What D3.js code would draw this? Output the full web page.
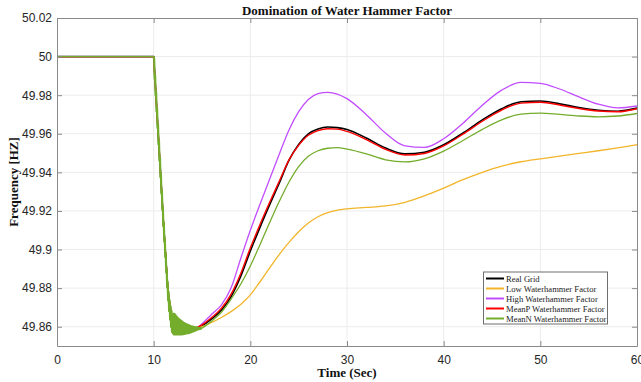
<!DOCTYPE html>
<html>
<head>
<meta charset="utf-8">
<script src="https://cdn.jsdelivr.net/npm/d3@7"></script>
<style>
  html, body { margin: 0; padding: 0; background: #fff; }
  svg { display: block; }
</style>
</head>
<body>
<svg id="chart" width="641" height="382"></svg>
<script>
// ---------------- DATA ----------------
const time = [0, 10, 10.5, 11, 11.5, 12, 12.5, 13,
  14, 15, 16, 17, 18, 19, 20, 21, 22, 23, 24, 25, 26, 27, 28, 29, 30,
  32, 34, 36, 38, 40, 42, 44, 46, 48, 50, 52, 54, 56, 58, 60];

const realGrid = [50, 50, 49.9575, 49.915, 49.877, 49.861, 49.8605, 49.859,
  49.8587, 49.8605, 49.8640, 49.8685, 49.8755, 49.8860, 49.8992, 49.9115, 49.9232, 49.9345, 49.9463, 49.9545, 49.9600, 49.9625, 49.9635, 49.9632, 49.9622,
  49.9578, 49.9526, 49.9496, 49.9504, 49.9543, 49.9604, 49.9672, 49.9730, 49.9766, 49.9770, 49.9755, 49.9736, 49.9722, 49.9717, 49.9733];

const lowWH = [50, 50, 49.9575, 49.915, 49.877, 49.861, 49.8605, 49.8595,
  49.8590, 49.8600, 49.8622, 49.8648, 49.8678, 49.8715, 49.8765, 49.8833, 49.8905, 49.8975, 49.9037, 49.9092, 49.9137, 49.9170, 49.9191, 49.9204, 49.9211,
  49.9218, 49.9226, 49.9245, 49.9278, 49.9318, 49.9362, 49.9400, 49.9432, 49.9455, 49.9470, 49.9484, 49.9498, 49.9512, 49.9527, 49.9543];

const highWH = [50, 50, 49.9575, 49.915, 49.877, 49.861, 49.8575, 49.8565,
  49.8575, 49.8615, 49.8665, 49.8712, 49.8800, 49.8952, 49.9100, 49.9235, 49.9365, 49.9495, 49.9620, 49.9715, 49.9778, 49.9808, 49.9815, 49.9806, 49.9782,
  49.9699, 49.9603, 49.9537, 49.9529, 49.9574, 49.9655, 49.9748, 49.9826, 49.9866, 49.9861, 49.9832, 49.9791, 49.9753, 49.9734, 49.9744];

const meanP = [50, 50, 49.9575, 49.915, 49.877, 49.861, 49.8605, 49.8592,
  49.8590, 49.8610, 49.8648, 49.8695, 49.8768, 49.8875, 49.9008, 49.9130, 49.9245, 49.9355, 49.9465, 49.9540, 49.9592, 49.9616, 49.9626, 49.9624, 49.9612,
  49.9570, 49.9519, 49.9490, 49.9498, 49.9537, 49.9598, 49.9665, 49.9723, 49.9759, 49.9763, 49.9749, 49.9731, 49.9718, 49.9714, 49.9730];

const meanN = [50, 50, 49.9575, 49.915, 49.877, 49.861, 49.8600, 49.8590,
  49.8588, 49.8592, 49.8630, 49.8675, 49.8743, 49.8820, 49.8915, 49.9025, 49.9140, 49.9250, 49.9350, 49.9430, 49.9483, 49.9512, 49.9525, 49.9528, 49.9520,
  49.9496, 49.9465, 49.9454, 49.9470, 49.9510, 49.9565, 49.9623, 49.9672, 49.9702, 49.9707, 49.9700, 49.9692, 49.9688, 49.9692, 49.9705];

// oscillating transient of the MeanN trace, sampled every 0.05 s from 10 s to 15 s
const oscTime = d3.range(0, 101).map(i => 10 + i / 20);
const meanNOsc = [
  50.0000, 49.99875, 49.9885, 49.99025, 49.9800, 49.98175, 49.9715, 49.97325, 49.9630, 49.96475,
  49.9545, 49.95625, 49.9460, 49.94775, 49.9375, 49.93925, 49.9290, 49.93075, 49.9205, 49.92225,
  49.9120, 49.9140, 49.9040, 49.9060, 49.8960, 49.8980, 49.8880, 49.8900, 49.8803, 49.8830,
  49.8735, 49.8780, 49.8680, 49.8738, 49.8636, 49.8705, 49.8598, 49.8681, 49.8573, 49.8665,
  49.8565, 49.8667, 49.8560, 49.8667, 49.8560, 49.8662, 49.8560, 49.8654, 49.8560, 49.8648,
  49.8560, 49.8643, 49.8560, 49.8638, 49.8560, 49.8634, 49.8560, 49.8630, 49.8560, 49.8626,
  49.8561, 49.8622, 49.8562, 49.8619, 49.8563, 49.8616, 49.8564, 49.8613, 49.8565, 49.8611,
  49.8566, 49.8609, 49.8567, 49.8607, 49.8568, 49.8605, 49.8570, 49.8603, 49.8572, 49.8601,
  49.8574, 49.8600, 49.8576, 49.8599, 49.8578, 49.8598, 49.8580, 49.8597, 49.8582, 49.8596,
  49.8584, 49.8595, 49.8586, 49.8594, 49.8588, 49.8593, 49.8589, 49.8592, 49.8590, 49.8592,
  49.8592];

const seriesNames = ["Real Grid", "Low Waterhammer Factor", "High Waterhammer Factor",
  "MeanP Waterhammer Factor", "MeanN Waterhammer Factor"];
const seriesColors = ["#000000", "#f2b52a", "#c24dff", "#ff0000", "#74ad2c"];
const seriesWidths = [1.6, 1.3, 1.3, 1.4, 1.3];

const xTicks = [0, 10, 20, 30, 40, 50, 60];
const yTicks = [49.86, 49.88, 49.9, 49.92, 49.94, 49.96, 49.98, 50, 50.02];
const yTickLabels = ["49.86", "49.88", "49.9", "49.92", "49.94", "49.96", "49.98", "50", "50.02"];

// ---------------- DRAW ----------------
const svg = d3.select("#chart");
const M = { left: 57, right: 637, top: 18, bottom: 346 };

const x = d3.scaleLinear().domain([0, 60]).range([M.left, M.right]);
const y = d3.scaleLinear().domain([49.85, 50.02]).range([M.bottom, M.top]);

const axisColor = "#8a8a8a";
const gridColor = "#ececec";
const sans = "'Liberation Sans', Arial, sans-serif";
const serif = "'Liberation Serif', 'Times New Roman', serif";

// grid
const grid = svg.append("g");
grid.selectAll("line.gx").data(xTicks.slice(1, -1)).enter().append("line")
  .attr("x1", d => x(d)).attr("x2", d => x(d))
  .attr("y1", M.top).attr("y2", M.bottom)
  .attr("stroke", gridColor).attr("stroke-width", 1);
grid.selectAll("line.gy").data(yTicks.slice(0, -1)).enter().append("line")
  .attr("y1", d => y(d)).attr("y2", d => y(d))
  .attr("x1", M.left).attr("x2", M.right)
  .attr("stroke", gridColor).attr("stroke-width", 1);

// clip
svg.append("clipPath").attr("id", "clip").append("rect")
  .attr("x", M.left).attr("y", M.top)
  .attr("width", M.right - M.left).attr("height", M.bottom - M.top);

const smooth = d3.line().x(d => x(d[0])).y(d => y(d[1])).curve(d3.curveMonotoneX);
const straight = d3.line().x(d => x(d[0])).y(d => y(d[1])).curve(d3.curveLinear);

const allSeries = [realGrid, lowWH, highWH, meanP, meanN];
const plotG = svg.append("g").attr("clip-path", "url(#clip)");
allSeries.forEach((vals, i) => {
  const pts = time.map((t, k) => [t, vals[k]]);
  if (i === 4) {
    const flat = pts.filter(p => p[0] <= 10);
    const osc = oscTime.map((t, k) => [t, meanNOsc[k]]);
    const late = [[15, meanNOsc[meanNOsc.length - 1]]].concat(pts.filter(p => p[0] > 15));
    plotG.append("path").attr("d", straight(flat) + smooth(late))
      .attr("fill", "none").attr("stroke", seriesColors[i])
      .attr("stroke-width", seriesWidths[i]).attr("stroke-linejoin", "round");
    plotG.append("path").attr("d", straight(osc))
      .attr("fill", "none").attr("stroke", seriesColors[i])
      .attr("stroke-width", 2.2).attr("stroke-linejoin", "round");
  } else {
    const d = straight(pts.filter(p => p[0] <= 12)) + smooth(pts.filter(p => p[0] >= 12));
    plotG.append("path")
      .attr("d", d)
      .attr("fill", "none")
      .attr("stroke", seriesColors[i])
      .attr("stroke-width", seriesWidths[i])
      .attr("stroke-linejoin", "round");
  }
});

// axes (box with inward ticks on all sides)
const axG = svg.append("g");
const xAxisB = d3.axisBottom(x).tickValues(xTicks).tickSizeInner(-5).tickSizeOuter(0).tickPadding(9);
const xAxisT = d3.axisTop(x).tickValues(xTicks).tickSizeInner(-5).tickSizeOuter(0).tickFormat("");
const yAxisL = d3.axisLeft(y).tickValues(yTicks).tickSizeInner(-5).tickSizeOuter(0).tickPadding(5)
  .tickFormat((d, i) => yTickLabels[i]);
const yAxisR = d3.axisRight(y).tickValues(yTicks).tickSizeInner(-5).tickSizeOuter(0).tickFormat("");

const gB = axG.append("g").attr("transform", `translate(0,${M.bottom})`).call(xAxisB);
const gT = axG.append("g").attr("transform", `translate(0,${M.top})`).call(xAxisT);
const gL = axG.append("g").attr("transform", `translate(${M.left},0)`).call(yAxisL);
const gR = axG.append("g").attr("transform", `translate(${M.right},0)`).call(yAxisR);
[gB, gT, gL, gR].forEach(g => {
  g.select(".domain").attr("stroke", axisColor).attr("stroke-width", 1);
  g.selectAll(".tick line").attr("stroke", axisColor);
  g.selectAll(".tick text").attr("fill", "#262626").attr("font-family", sans).attr("font-size", 12);
});

// titles
svg.append("text").attr("x", (M.left + M.right) / 2).attr("y", 15)
  .attr("text-anchor", "middle").attr("font-family", serif).attr("font-weight", "bold")
  .attr("font-size", 13).attr("fill", "#111").text("Domination of Water Hammer Factor");
svg.append("text").attr("x", (M.left + M.right) / 2).attr("y", 377)
  .attr("text-anchor", "middle").attr("font-family", serif).attr("font-weight", "bold")
  .attr("font-size", 13).attr("fill", "#111").text("Time (Sec)");
svg.append("text").attr("transform", `translate(18,${182}) rotate(-90)`)
  .attr("text-anchor", "middle").attr("font-family", serif).attr("font-weight", "bold")
  .attr("font-size", 13).attr("fill", "#111").text("Frequency [HZ]");

// legend
const lg = svg.append("g");
const L = { x: 483.5, y: 272, w: 124, h: 52 };
lg.append("rect").attr("x", L.x).attr("y", L.y).attr("width", L.w).attr("height", L.h)
  .attr("fill", "#fff").attr("stroke", "#6e6e6e").attr("stroke-width", 1);
seriesNames.forEach((name, i) => {
  const cy = L.y + 6.5 + i * 10;
  lg.append("line").attr("x1", L.x + 2.5).attr("x2", L.x + 20.5)
    .attr("y1", cy).attr("y2", cy)
    .attr("stroke", seriesColors[i]).attr("stroke-width", 2);
  lg.append("text").attr("x", L.x + 22.5).attr("y", cy + 3.1)
    .attr("font-family", serif).attr("font-size", 8.6).attr("fill", "#222").text(name);
});
</script>
</body>
</html>
